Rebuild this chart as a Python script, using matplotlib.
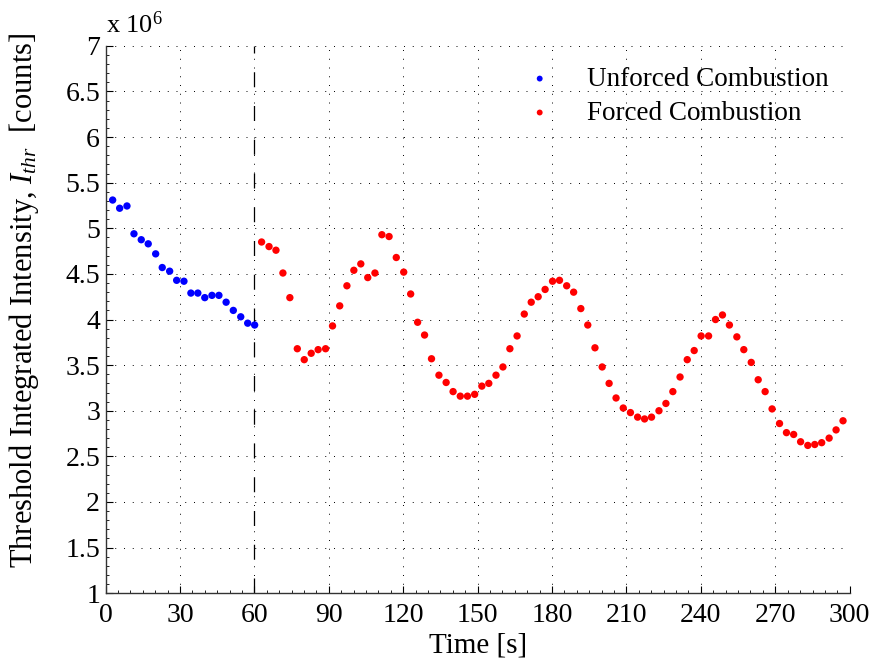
import numpy as np
import matplotlib.pyplot as plt
from matplotlib.ticker import MultipleLocator, FuncFormatter


# --------------------------------------------------
# Data (intensity in units of 1e6 counts)
# --------------------------------------------------

t_unforced = [2.86, 5.68, 8.63, 11.45, 14.39, 17.2, 20.2, 22.85, 25.84, 28.66,
              31.6, 34.4, 37.2, 40.0, 42.9, 45.7, 48.6, 51.5, 54.5, 57.3, 60.1]
i_unforced = [5.31, 5.22, 5.245, 4.94, 4.875, 4.83, 4.72, 4.57, 4.53, 4.43,
              4.42, 4.29, 4.29, 4.24, 4.265, 4.265, 4.19, 4.10, 4.03, 3.96, 3.94]

t_forced = [62.9, 65.9, 68.7, 71.5, 74.3, 77.3, 80.1, 82.9, 85.7, 88.7,
            91.5, 94.4, 97.3, 100.1, 102.9, 105.7, 108.6, 111.4, 114.3, 117.2,
            120.2, 123.0, 125.8, 128.6, 131.4, 134.4, 137.3, 140.1, 143.0, 145.9,
            148.8, 151.7, 154.5, 157.4, 160.2, 163.0, 165.9, 168.8, 171.6, 174.4,
            177.2, 180.2, 183.0, 185.9, 188.7, 191.6, 194.4, 197.3, 200.2, 203.0,
            205.8, 208.7, 211.6, 214.5, 217.3, 220.1, 223.1, 225.9, 228.7, 231.6,
            234.5, 237.3, 240.1, 243.1, 245.9, 248.7, 251.5, 254.5, 257.3, 260.3,
            263.1, 265.9, 268.7, 271.7, 274.5, 277.4, 280.2, 283.1, 285.9, 288.7,
            291.7, 294.5, 297.3]
i_forced = [4.85, 4.80, 4.76, 4.51, 4.24, 3.68, 3.56, 3.63, 3.67, 3.68,
            3.93, 4.15, 4.37, 4.54, 4.61, 4.46, 4.51, 4.93, 4.91, 4.68,
            4.52, 4.28, 3.97, 3.83, 3.57, 3.39, 3.31, 3.21, 3.16, 3.16,
            3.18, 3.27, 3.30, 3.39, 3.48, 3.68, 3.82, 4.06, 4.19, 4.25,
            4.33, 4.42, 4.43, 4.37, 4.30, 4.12, 3.94, 3.69, 3.48, 3.30,
            3.14, 3.03, 2.98, 2.93, 2.91, 2.93, 3.00, 3.08, 3.21, 3.37,
            3.56, 3.66, 3.82, 3.82, 4.00, 4.05, 3.94, 3.81, 3.67, 3.53,
            3.34, 3.21, 3.02, 2.86, 2.76, 2.74, 2.66, 2.62, 2.63, 2.65,
            2.70, 2.79, 2.89]

forcing_start = 60

x_ticks = np.arange(0, 301, 30)
y_ticks = np.arange(1, 7.01, 0.5)


# --------------------------------------------------
# Style
# --------------------------------------------------

plt.rcParams['font.family'] = ['Liberation Serif', 'DejaVu Serif']
plt.rcParams['font.size'] = 20
plt.rcParams['mathtext.fontset'] = 'custom'
plt.rcParams['mathtext.rm'] = 'Liberation Serif'
plt.rcParams['mathtext.it'] = 'Liberation Serif:italic'


# --------------------------------------------------
# Plot
# --------------------------------------------------

fig = plt.figure(figsize=(8.76, 6.65), dpi=100)
ax = fig.add_axes([0.1205, 0.108, 0.8495, 0.823])

ax.scatter(t_unforced, i_unforced, s=28, color='#0000ff', edgecolors='none',
           label='Unforced Combustion', zorder=3)
ax.scatter(t_forced, i_forced, s=28, color='#ff0000', edgecolors='none',
           label='Forced Combustion', zorder=3)

ax.axvline(forcing_start, color='black', linewidth=0.9,
           linestyle=(0, (12, 15)), zorder=2)

ax.set_xlim(0, 300)
ax.set_ylim(1, 7)
ax.set_xticks(x_ticks)
ax.set_yticks(y_ticks)
ax.xaxis.set_minor_locator(MultipleLocator(5))
ax.yaxis.set_minor_locator(MultipleLocator(0.1))
ax.yaxis.set_major_formatter(FuncFormatter(lambda v, p: f"{v:g}"))

ax.grid(True, which='major', color='black', linestyle=(0, (1, 8)),
        linewidth=0.7)

for side in ['top', 'right']:
    ax.spines[side].set_visible(False)
for side in ['left', 'bottom']:
    ax.spines[side].set_linewidth(1.0)
    ax.spines[side].set_color('#333333')

ax.tick_params(which='major', direction='in', length=5, width=0.8, pad=4,
               labelsize=20)
ax.tick_params(which='minor', direction='in', length=2.5, width=0.6)
ax.tick_params(axis='x', which='major', pad=7)

ax.set_xlabel('Time [s]', fontsize=21, labelpad=3)
ax.set_ylabel(r'Threshold Integrated Intensity, $I_{thr}$  [counts]',
              fontsize=22)
ax.yaxis.set_label_coords(-0.087, 0.535)

ax.text(0.0, 1.014, r'x 10$^{6}$', transform=ax.transAxes,
        ha='left', va='bottom', fontsize=19)

ax.legend(loc='upper left', bbox_to_anchor=(0.547, 0.962), frameon=False,
          fontsize=19.5, borderpad=0, borderaxespad=0, handlelength=2.0,
          handletextpad=0.75, labelspacing=0.33, scatterpoints=1,
          markerscale=0.8)

fig.savefig('out.png', dpi=100)
